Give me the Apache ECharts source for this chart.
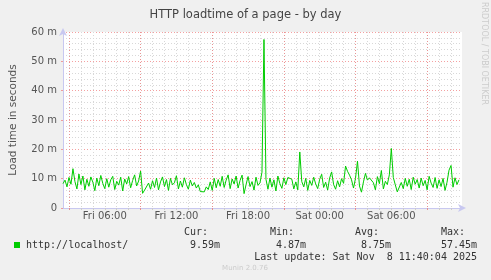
<!DOCTYPE html>
<html>
<head>
<meta charset="utf-8">
<script src="https://cdn.jsdelivr.net/npm/echarts@6/dist/echarts.min.js"></script>
<style>
html,body{margin:0;padding:0;background:#f0f0f0;}
#c{width:491px;height:280px;}
</style>
</head>
<body>
<div id="c"></div>
<script>
// ---- data ----
var startHour = 2.5;          // first sample, hours after Fri 00:00
var stepHours = 1 / 6;        // 10-minute samples
var loadMs = [
  8.3, 9.5, 7.2, 10.4, 8.1, 13.4, 9.0, 6.5, 11.6, 8.0,
  10.9, 6.2, 9.8, 7.4, 10.6, 8.8, 5.9, 10.2, 7.6, 11.1,
  8.4, 6.6, 10.0, 7.1, 9.6, 10.8, 6.3, 9.1, 7.8, 10.5,
  5.8, 9.9, 8.2, 10.7, 6.9, 9.4, 11.3, 7.5, 9.2, 12.6,
  5.0, 6.1, 5.6, 8.5, 6.4, 9.3, 7.0, 10.2, 6.2, 8.9,
  10.6, 7.3, 9.7, 6.0, 10.1, 7.9, 8.6, 11.0, 6.5, 9.2,
  7.1, 10.3, 8.0, 6.4, 9.5, 7.5, 8.7, 6.8, 7.9, 5.6,
  6.0, 5.5, 7.2, 6.3, 8.9, 6.0, 10.1, 6.9, 9.7, 7.4,
  10.8, 7.0, 9.5, 11.3, 6.6, 9.9, 8.2, 10.9, 6.8, 9.4,
  11.2, 4.9, 8.0, 10.7, 7.3, 9.0, 6.1, 10.5, 7.7, 8.6,
  12.2, 57.45, 9.8, 6.4, 10.2, 7.1, 9.6, 5.8, 10.9, 8.3,
  6.7, 10.3, 8.0, 10.4, 10.6, 9.8, 6.5, 8.9, 6.2, 19.1,
  9.0, 7.2, 10.1, 6.0, 9.4, 7.7, 10.5, 8.2, 6.6, 9.8,
  11.5, 7.0, 8.8, 6.1, 10.2, 12.3, 8.0, 6.4, 9.3, 7.2,
  10.0, 8.4, 14.3, 12.5, 11.2, 9.6, 6.8, 10.1, 16.0, 7.5,
  5.4, 8.9, 11.8, 9.5, 10.3, 9.9, 8.6, 6.2, 10.7, 8.3,
  12.8, 6.5, 9.1, 8.0, 11.3, 20.3, 10.4, 7.9, 5.5, 6.1,
  8.7, 6.6, 10.1, 7.4, 9.8, 6.3, 10.5, 8.1, 9.7, 6.8,
  10.2, 7.6, 9.4, 6.2, 10.8, 8.5, 7.0, 10.4, 6.7, 9.6,
  7.3, 10.1, 6.0, 8.8, 12.9, 14.5, 7.1, 10.3, 8.0, 9.59
];
var labelHours = [6, 12, 18, 24, 30];
var labelTexts = ['Fri 06:00', 'Fri 12:00', 'Fri 18:00', 'Sat 00:00', 'Sat 06:00'];
var minorHours = [];
for (var hh = 3; hh <= 35; hh++) minorHours.push(hh);
var majorHours = [3, 9, 15, 21, 27, 33];
var legendName = 'http://localhost/';
var statHeads = ['Cur:', 'Min:', 'Avg:', 'Max:'];
var statVals = ['9.59m', '4.87m', '8.75m', '57.45m'];
var lastUpdate = 'Last update: Sat Nov  8 11:40:04 2025';

// ---- chart ----
var pts = loadMs.map(function (v, i) { return [startHour + i * stepHours, v]; });
var xMin = 2.5, xMax = 35.92;
var axisCol = '#c8c8f0';
var mono = '"DejaVu Sans Mono", monospace';
var sans = '"DejaVu Sans", sans-serif';

var chart = echarts.init(document.getElementById('c'), null, {renderer: 'canvas'});
chart.setOption({
  backgroundColor: '#f0f0f0',
  animation: false,
  title: {
    text: 'HTTP loadtime of a page - by day',
    left: 'center', top: 4,
    textStyle: {fontFamily: sans, fontSize: 11.5, fontWeight: 'normal', color: '#444'}
  },
  grid: {left: 61, right: 29, top: 32, bottom: 72, show: true, backgroundColor: '#ffffff', borderWidth: 0},
  xAxis: [
    {
      type: 'value', min: xMin, max: xMax,
      axisLine: {show: false},
      axisTick: {show: true, customValues: minorHours, length: 2, inside: false, lineStyle: {color: '#cccccc'}},
      axisLabel: {show: false},
      splitLine: {show: true, lineStyle: {color: '#d8d8d8', type: [1, 2], width: 1}}
    },
    {
      type: 'value', min: xMin, max: xMax, gridIndex: 0, position: 'bottom',
      axisLine: {show: false},
      axisTick: {show: true, customValues: majorHours, length: 2, lineStyle: {color: 'rgba(240,120,120,0.7)'}},
      axisLabel: {show: false},
      splitLine: {show: true, lineStyle: {color: 'rgba(240,120,120,0.7)', type: [1, 2], width: 1}}
    },
    {
      type: 'value', min: xMin, max: xMax, gridIndex: 0, position: 'bottom',
      axisLine: {show: true, onZero: false, symbol: ['none', 'arrow'], symbolSize: [6, 8], symbolOffset: [0, 4],
        lineStyle: {color: axisCol, width: 1}},
      axisTick: {show: false, customValues: labelHours},
      axisLabel: {show: true, customValues: labelHours, margin: 3,
        fontFamily: sans, fontSize: 10, color: '#555',
        formatter: function (v) { var k = labelHours.indexOf(Math.round(v)); return k >= 0 ? labelTexts[k] : ''; }},
      splitLine: {show: false}
    }
  ],
  yAxis: [
    {
      type: 'value', min: 0, max: 60, interval: 10,
      name: 'Load time in seconds', nameLocation: 'middle', nameGap: 44, nameRotate: 90,
      nameTextStyle: {fontFamily: sans, fontSize: 10.5, color: '#555'},
      axisLine: {show: true, symbol: ['none', 'arrow'], symbolSize: [6, 8], symbolOffset: [0, 4],
        lineStyle: {color: axisCol, width: 1}},
      axisTick: {show: true, length: 2, lineStyle: {color: 'rgba(240,120,120,0.7)'}},
      minorTick: {show: false, splitNumber: 5},
      minorSplitLine: {show: true, lineStyle: {color: '#d8d8d8', type: [1, 2], width: 1}},
      axisLabel: {fontFamily: sans, fontSize: 10, color: '#555', margin: 6,
        formatter: function (v) { return v === 0 ? '0' : v + ' m'; }},
      splitLine: {show: true, lineStyle: {color: 'rgba(240,120,120,0.7)', type: [1, 2], width: 1}}
    }
  ],
  series: [{
    type: 'line', xAxisIndex: 0, yAxisIndex: 0,
    data: pts, showSymbol: false, symbol: 'none',
    lineStyle: {color: '#00cc00', width: 1},
    itemStyle: {color: '#00cc00'}, z: 5
  }],
  graphic: [
    {type: 'text', x: 484, y: 2, rotation: -Math.PI / 2,
      style: {text: 'RRDTOOL / TOBI OETIKER', font: '8px ' + sans, fill: '#cccccc', textAlign: 'left', textVerticalAlign: 'middle'}},
    {type: 'rect', shape: {x: 14, y: 242, width: 6, height: 6}, style: {fill: '#00cc00'}},
    {type: 'text', x: 26, y: 245, style: {text: legendName, font: '10px ' + mono, fill: '#333', textVerticalAlign: 'middle'}},
    {type: 'text', x: 184, y: 232, style: {text: statHeads[0], font: '10px ' + mono, fill: '#333', textVerticalAlign: 'middle'}},
    {type: 'text', x: 270, y: 232, style: {text: statHeads[1], font: '10px ' + mono, fill: '#333', textVerticalAlign: 'middle'}},
    {type: 'text', x: 355, y: 232, style: {text: statHeads[2], font: '10px ' + mono, fill: '#333', textVerticalAlign: 'middle'}},
    {type: 'text', x: 441, y: 232, style: {text: statHeads[3], font: '10px ' + mono, fill: '#333', textVerticalAlign: 'middle'}},
    {type: 'text', x: 220, y: 245, style: {text: statVals[0], font: '10px ' + mono, fill: '#333', textAlign: 'right', textVerticalAlign: 'middle'}},
    {type: 'text', x: 306, y: 245, style: {text: statVals[1], font: '10px ' + mono, fill: '#333', textAlign: 'right', textVerticalAlign: 'middle'}},
    {type: 'text', x: 391, y: 245, style: {text: statVals[2], font: '10px ' + mono, fill: '#333', textAlign: 'right', textVerticalAlign: 'middle'}},
    {type: 'text', x: 477, y: 245, style: {text: statVals[3], font: '10px ' + mono, fill: '#333', textAlign: 'right', textVerticalAlign: 'middle'}},
    {type: 'text', x: 477, y: 257, style: {text: lastUpdate, font: '10px ' + mono, fill: '#333', textAlign: 'right', textVerticalAlign: 'middle'}},
    {type: 'text', x: 245, y: 268, style: {text: 'Munin 2.0.76', font: '7px ' + sans, fill: '#cccccc', textAlign: 'center', textVerticalAlign: 'middle'}}
  ]
});
</script>
</body>
</html>
